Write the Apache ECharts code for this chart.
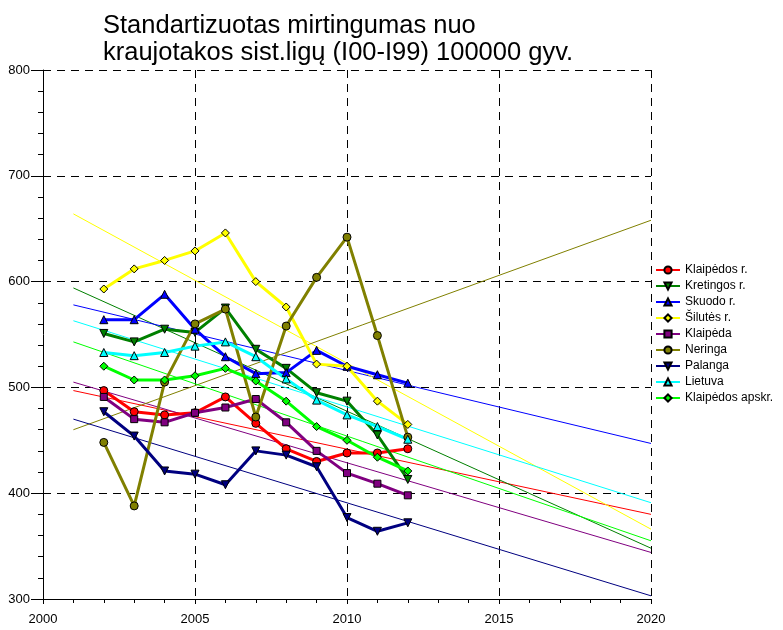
<!DOCTYPE html>
<html>
<head>
<meta charset="utf-8">
<script src="https://cdn.jsdelivr.net/npm/echarts@6/dist/echarts.min.js"></script>
<style>
  html, body { margin: 0; padding: 0; background: #fff; }
  #chart { width: 783px; height: 630px; }
</style>
</head>
<body>
<div id="chart"></div>
<script>
// metai
const years = [2002, 2003, 2004, 2005, 2006, 2007, 2008, 2009, 2010, 2011, 2012];

// rodikliai pagal savivaldybes
const klaipedosR = [497, 477, 474, 476, 491, 466, 442, 430, 438, 438, 442];
const kretingosR = [551, 543, 555, 552, 575, 536, 518, 495, 487, 455, 413];
const skuodoR = [564, 564, 588, 555, 529, 513, 514, 535, 520, 512, 504];
const silutesR = [593, 612, 620, 629, 646, 600, 576, 522, 520, 487, 465];
const klaipeda = [491, 470, 467, 476, 481, 489, 467, 440, 419, 409, 398];
const neringa = [448, 388, 505, 560, 574, 472, 558, 604, 642, 549, 453];
const palanga = [477, 454, 421, 418, 408, 440, 436, 425, 377, 364, 372];
const lietuva = [533, 530, 533, 539, 543, 529, 508, 488, 474, 463, 451];
const klaipedosApskr = [520, 507, 507, 511, 518, 506, 487, 463, 450, 434, 421];

// trendo linijų galai (2001 ir 2020 m.)
const trendYears = [2001, 2020];
const trendKlaipedosR = [497, 380];
const trendKretingosR = [594, 348];
const trendSkuodoR = [578, 447];
const trendSilutesR = [664, 366];
const trendKlaipeda = [505, 344];
const trendNeringa = [460, 658];
const trendPalanga = [470, 303];
const trendLietuva = [563, 391];
const trendKlaipedosApskr = [543, 355];

const chart = echarts.init(document.getElementById('chart'));

const names = ['Klaipėdos r.', 'Kretingos r.', 'Skuodo r.', 'Šilutės r.', 'Klaipėda',
    'Neringa', 'Palanga', 'Lietuva', 'Klaipėdos apskr.'];
const colors = ['#ff0000', '#008000', '#0000ff', '#ffff00', '#800080',
    '#808000', '#000080', '#00ffff', '#00ff00'];
const symbols = ['circle', 'triangle', 'triangle', 'diamond', 'rect',
    'circle', 'triangle', 'triangle', 'diamond'];
const rotations = [0, 180, 0, 0, 0, 0, 180, 0, 0];
const values = [klaipedosR, kretingosR, skuodoR, silutesR, klaipeda,
    neringa, palanga, lietuva, klaipedosApskr];
const trends = [trendKlaipedosR, trendKretingosR, trendSkuodoR, trendSilutesR, trendKlaipeda,
    trendNeringa, trendPalanga, trendLietuva, trendKlaipedosApskr];

const series = [];
// plonos trendo linijos apačioje
trends.forEach((t, i) => {
    series.push({
        name: names[i] + ' trend',
        type: 'line',
        data: trendYears.map((y, k) => [y, t[k]]),
        showSymbol: false,
        silent: true,
        lineStyle: { color: colors[i], width: 1 },
        z: 1
    });
});
values.forEach((v, i) => {
    series.push({
        name: names[i],
        type: 'line',
        data: years.map((y, k) => [y, v[k]]),
        symbol: symbols[i],
        symbolRotate: rotations[i],
        symbolSize: symbols[i] === 'rect' ? 7 : 8,
        color: colors[i],
        lineStyle: { color: colors[i], width: 3 },
        itemStyle: { color: colors[i], borderColor: '#000', borderWidth: 1 },
        z: 3
    });
});

const font = 'Liberation Sans, Arial, sans-serif';

const option = {
    backgroundColor: '#fff',
    animation: false,
    title: {
        text: 'Standartizuotas mirtingumas nuo\nkraujotakos sist.ligų (I00-I99) 100000 gyv.',
        left: 98,
        top: 7,
        textStyle: {
            fontFamily: font,
            fontSize: 25.5,
            fontWeight: 'normal',
            color: '#000',
            lineHeight: 27
        }
    },
    legend: {
        data: names,
        orient: 'vertical',
        left: 650,
        top: 258,
        itemWidth: 24,
        itemHeight: 9,
        itemGap: 2,
        textStyle: { fontFamily: font, fontSize: 12, color: '#000', lineHeight: 14 }
    },
    grid: { left: 43, right: 132, top: 70, bottom: 31 },
    xAxis: {
        type: 'value',
        min: 2000,
        max: 2020,
        interval: 5,
        axisLine: { lineStyle: { color: '#000', width: 1 } },
        axisTick: { show: true, length: 5, lineStyle: { color: '#000' } },
        minorTick: { show: true, splitNumber: 5, length: 4, lineStyle: { color: '#000' } },
        axisLabel: {
            fontFamily: font, fontSize: 13, color: '#000', margin: 14,
            formatter: v => String(v)
        },
        splitLine: { show: true, lineStyle: { color: '#000', type: [8, 6], width: 1 } }
    },
    yAxis: {
        type: 'value',
        min: 300,
        max: 800,
        interval: 100,
        axisLine: { show: true, lineStyle: { color: '#000', width: 1 } },
        axisTick: { show: true, length: 12, lineStyle: { color: '#000' } },
        minorTick: { show: true, splitNumber: 5, length: 5, lineStyle: { color: '#000' } },
        axisLabel: { fontFamily: font, fontSize: 13, color: '#000', margin: 13 },
        splitLine: { show: true, lineStyle: { color: '#000', type: [8, 6], width: 1 } }
    },
    series: series
};

chart.setOption(option);
</script>
</body>
</html>
